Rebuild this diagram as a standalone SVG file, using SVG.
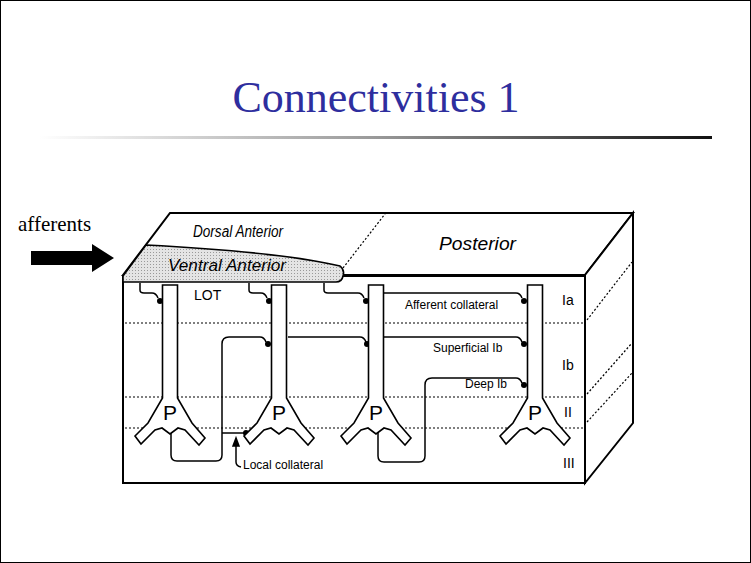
<svg xmlns="http://www.w3.org/2000/svg" width="751" height="563" viewBox="0 0 751 563">
<defs>
<linearGradient id="rule" x1="0" x2="1" y1="0" y2="0">
<stop offset="0" stop-color="#ffffff"/><stop offset="0.5" stop-color="#999999"/><stop offset="1" stop-color="#111111"/>
</linearGradient>
<pattern id="stip" width="3" height="3" patternUnits="userSpaceOnUse">
<rect width="3" height="3" fill="#e4e4e4"/><rect width="1" height="1" fill="#999"/>
</pattern>
<path id="cell" d="M -7.5,285 V 398 L -22,423 L -35,436 L -29,444 L -15,430 L -8,428 L 0,434 L 8,428 L 15,430 L 29,445 L 35,438 L 22,423 L 7.5,398 V 285 Z"/>
</defs>
<style>
.ln{fill:none;stroke:#000;stroke-width:1.5}
.box{fill:#fff;stroke:#000;stroke-width:2}
.dot{fill:none;stroke:#000;stroke-width:1.2;stroke-dasharray:2 2}
.cellp{fill:#fff;stroke:#000;stroke-width:1.6}
.lab{font-family:"Liberation Sans",Arial,sans-serif;font-size:12px;fill:#000}
.big{font-family:"Liberation Sans",Arial,sans-serif;font-size:14px;fill:#000}
.ital{font-family:"Liberation Sans",Arial,sans-serif;font-style:italic;fill:#000}
.P{font-family:"Liberation Sans",Arial,sans-serif;font-size:21px;fill:#000}
</style>
<rect x="0.5" y="0.5" width="750" height="562" fill="#fff" stroke="#000"/>
<text x="376" y="112" text-anchor="middle" font-family="Liberation Serif,Times New Roman,serif" font-size="44" fill="#2e2e9e">Connectivities 1</text>
<rect x="40" y="136" width="672" height="3" fill="url(#rule)"/>
<g id="afferents">
<text x="18" y="231" font-family="Liberation Serif,Times New Roman,serif" font-size="21" fill="#000">afferents</text>
<polygon points="31,251 92,251 92,244 114,258 92,272 92,265 31,265" fill="#000"/>
</g>
<g id="block">
<polygon class="box" points="123,275 170,213 633,213 585,275"/>
<polygon class="box" points="585,275 633,213 633,423 585,483"/>
<rect class="box" x="123" y="276" width="462" height="207"/>
<path d="M123,276 L146,245 Q280,252 340,266 Q345,270 343,276 Q342,282 336,282 L123,282 Z" fill="url(#stip)" stroke="#000" stroke-width="1.6"/>
<line class="dot" x1="343" y1="268" x2="385" y2="214"/>
<text class="ital" x="193" y="237" font-size="16" textLength="90" lengthAdjust="spacingAndGlyphs">Dorsal Anterior</text>
<text class="ital" x="168" y="271" font-size="16" textLength="118" lengthAdjust="spacingAndGlyphs">Ventral Anterior</text>
<text class="ital" x="439" y="250" font-size="18" textLength="77" lengthAdjust="spacingAndGlyphs">Posterior</text>
<line class="dot" x1="125" y1="323" x2="585" y2="323"/>
<line class="dot" x1="125" y1="397" x2="585" y2="397"/>
<line class="dot" x1="125" y1="428" x2="585" y2="428"/>
<line class="dot" x1="587" y1="320" x2="632" y2="262"/>
<line class="dot" x1="587" y1="394" x2="632" y2="343"/>
<line class="dot" x1="587" y1="422" x2="632" y2="373"/>
<text class="big" x="562" y="305">Ia</text>
<text class="big" x="562" y="370">Ib</text>
<text class="big" x="564" y="417">II</text>
<text class="big" x="563" y="468">III</text>
<text class="big" x="194" y="300">LOT</text>
</g>
<g id="connectors" class="ln">
<path d="M140,283 V290 Q140,293 144,293 H152 Q156,293 158,298"/>
<path d="M249,283 V290 Q249,293 253,293 H261 Q265,293 267,298"/>
<path d="M324,283 V290 Q324,293 328,293 H358 Q362,293 364,298"/>
<path d="M384,293 H516 Q520,293 522,298"/>
<path d="M288,337 H360 Q364,337 366,342"/>
<path d="M384,337 H516 Q520,337 522,342"/>
<path d="M171,433 V455 Q171,461 177,461 H216 Q222,461 222,455 V344 Q222,337 229,337 H260 Q264,337 266,342"/>
<path d="M222,433 H244"/>
<path d="M378,433 V456 Q378,462 384,462 H419 Q425,462 425,456 V385 Q425,378 432,378 H516 Q520,378 522,383"/>
<path d="M236,462 V440"/>
<path d="M236,438 L233,446 L239,446 Z" fill="#000"/>
<path d="M236,462 Q236,466 241,467"/>
</g>
<g id="synapses" fill="#000">
<circle cx="160" cy="301" r="3"/><circle cx="269" cy="301" r="3"/><circle cx="366" cy="301" r="3"/><circle cx="524" cy="301" r="3"/>
<circle cx="268" cy="344" r="3"/><circle cx="367" cy="344" r="3"/><circle cx="524" cy="344" r="3"/>
<circle cx="524" cy="385" r="3"/><circle cx="246" cy="433" r="3"/>
</g>
<g id="cell1"><use href="#cell" x="170" class="cellp"/><text class="P" x="163" y="420">P</text></g>
<g id="cell2"><use href="#cell" x="279" class="cellp"/><text class="P" x="272" y="420">P</text></g>
<g id="cell3"><use href="#cell" x="376" class="cellp"/><text class="P" x="369" y="420">P</text></g>
<g id="cell4"><use href="#cell" x="535" class="cellp"/><text class="P" x="528" y="420">P</text></g>
<g id="labels">
<text class="lab" x="405" y="309">Afferent collateral</text>
<text class="lab" x="433" y="352">Superficial Ib</text>
<text class="lab" x="465" y="388">Deep Ib</text>
<text class="lab" x="243" y="469">Local collateral</text>
</g>
</svg>
